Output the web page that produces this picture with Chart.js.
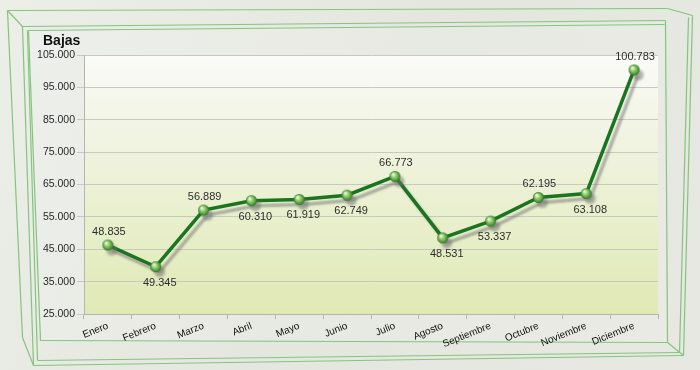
<!DOCTYPE html>
<html>
<head>
<meta charset="utf-8">
<script src="https://cdn.jsdelivr.net/npm/chart.js@4/dist/chart.umd.min.js"></script>
<style>
html,body{margin:0;padding:0;background:#e6e8e1;}
#wrap{width:700px;height:370px;}
</style>
</head>
<body>
<div id="wrap"><canvas id="c" width="700" height="370"></canvas></div>
<script>
// ---- data ----
const months = ['Enero','Febrero','Marzo','Abril','Mayo','Junio','Julio','Agosto','Septiembre','Octubre','Noviembre','Diciembre'];
const bajas = [46300, 39600, 57100, 60000, 60400, 61700, 67500, 48500, 53700, 61000, 62200, 100400];
const bajasLabels = ['48.835','49.345','56.889','60.310','61.919','62.749','66.773','48.531','53.337','62.195','63.108','100.783'];
const yTicks = [25000, 35000, 45000, 55000, 65000, 75000, 85000, 95000, 105000];
const axisTitle = 'Bajas';

function fmt(v){ return String(v).replace(/\B(?=(\d{3})+(?!\d))/g, '.'); }

// sphere point image
function sphere(r){
  const c = document.createElement('canvas');
  c.width = c.height = r*2+2;
  const g = c.getContext('2d');
  const cx = r+1, cy = r+1;
  const grad = g.createRadialGradient(cx-r*0.35, cy-r*0.4, r*0.1, cx, cy, r);
  grad.addColorStop(0, '#eef8e4');
  grad.addColorStop(0.35, '#9fd27e');
  grad.addColorStop(0.8, '#4f9a3a');
  grad.addColorStop(1, '#2f7026');
  g.fillStyle = grad;
  g.beginPath(); g.arc(cx, cy, r, 0, Math.PI*2); g.fill();
  return c;
}
const ball = sphere(5.5);

const bgPlugin = {
  id: 'bg',
  beforeDraw(chart){
    const ctx = chart.ctx, a = chart.chartArea;
    ctx.save();
    const bg = ctx.createLinearGradient(0,0,700,370);
    bg.addColorStop(0,'#eceee8');
    bg.addColorStop(0.5,'#e4e7df');
    bg.addColorStop(1,'#e6e8e1');
    ctx.fillStyle = bg;
    ctx.fillRect(0,0,700,370);
    // inner box face
    ctx.fillStyle = 'rgba(255,255,255,0.12)';
    ctx.beginPath();
    ctx.moveTo(28,31); ctx.lineTo(664,22); ctx.lineTo(667,342); ctx.lineTo(40,340); ctx.closePath();
    ctx.fill();
    // plot area gradient
    const pg = ctx.createLinearGradient(0,a.top,0,a.bottom);
    pg.addColorStop(0,'#fbfbf8');
    pg.addColorStop(0.3,'#f1f4e3');
    pg.addColorStop(0.65,'#e8efcb');
    pg.addColorStop(1,'#e0e9b5');
    ctx.fillStyle = pg;
    ctx.fillRect(a.left, a.top, a.right-a.left, a.bottom-a.top);
    // 3D frame lines
    ctx.strokeStyle = '#86c47f';
    ctx.lineWidth = 1.2;
    const segs = [
      [[7,10],[667,8]], [[7,10],[22,337]], [[7,10],[22,26]], [[667,8],[692,15]],
      [[22,26],[665,20]], [[27,30],[664,24]],
      [[22,26],[33,365]], [[28,31],[40,340]], [[27,30],[37,360]],
      [[665,20],[667,342]], [[688,17],[679,352]], [[692,15],[683,355]],
      [[40,340],[667,342]], [[37,360],[679,352]], [[33,365],[683,355]],
      [[667,342],[683,355]], [[22,337],[33,365]]
    ];
    segs.forEach(s=>{ ctx.beginPath(); ctx.moveTo(s[0][0]+0.5,s[0][1]+0.5); ctx.lineTo(s[1][0]+0.5,s[1][1]+0.5); ctx.stroke(); });
    // axis title
    ctx.fillStyle = '#111';
    ctx.font = 'bold 14px "Liberation Sans", Arial, sans-serif';
    ctx.textBaseline = 'alphabetic';
    ctx.textAlign = 'left';
    ctx.fillText(axisTitle, 43, 45);
    ctx.restore();
  }
};

const shadowPlugin = {
  id: 'shadow',
  beforeDatasetDraw(chart){
    const ctx = chart.ctx;
    ctx.save();
    ctx.shadowColor = 'rgba(110,110,110,0.5)';
    ctx.shadowOffsetX = 4;
    ctx.shadowOffsetY = 5;
    ctx.shadowBlur = 2;
  },
  afterDatasetDraw(chart){ chart.ctx.restore(); }
};

const belowIdx = [1,3,4,5,7,8,10];
const labelPlugin = {
  id: 'vlabels',
  afterDatasetsDraw(chart){
    const ctx = chart.ctx;
    const meta = chart.getDatasetMeta(0);
    ctx.save();
    ctx.font = '11px "Liberation Sans", Arial, sans-serif';
    ctx.fillStyle = '#2e2e2e';
    ctx.textAlign = 'center';
    ctx.textBaseline = 'middle';
    meta.data.forEach((p,i)=>{
      const below = belowIdx.includes(i);
      const dx = below ? 4 : 1;
      const dy = below ? 16 : -13;
      ctx.fillText(bajasLabels[i], p.x+dx, p.y+dy);
    });
    ctx.restore();
  }
};

new Chart(document.getElementById('c'), {
  type: 'line',
  data: {
    labels: months,
    datasets: [{
      data: bajas,
      borderColor: '#1b7420',
      borderWidth: 3.5,
      tension: 0,
      fill: false,
      pointStyle: ball,
      pointRadius: 6,
      pointHoverRadius: 6
    }]
  },
  options: {
    responsive: false,
    animation: false,
    events: [],
    layout: { padding: { top: 55, right: 42, bottom: 0, left: 0 } },
    plugins: { legend: { display: false }, tooltip: { enabled: false }, title: { display: false } },
    scales: {
      x: {
        offset: true,
        grid: { drawOnChartArea: false, offset: true, tickLength: 5, color: '#b3b5ae' },
        border: { color: '#b3b5ae' },
        ticks: {
          autoSkip: false, maxRotation: 22, minRotation: 22, padding: 1,
          color: '#111', font: { size: 10, family: '"Liberation Sans", Arial, sans-serif' }
        },
        afterFit(s){ s.height = 56; }
      },
      y: {
        min: 25000, max: 105000,
        afterBuildTicks(s){ s.ticks = yTicks.map(v=>({value:v})); },
        grid: { color: '#c8c9c2', tickLength: 7, lineWidth: 1 },
        border: { color: '#b3b5ae' },
        ticks: {
          padding: 2, color: '#2a2a2a',
          font: { size: 10.5, family: '"Liberation Sans", Arial, sans-serif' },
          callback: v => fmt(v)
        },
        afterFit(s){ s.width = 84; }
      }
    }
  },
  plugins: [bgPlugin, shadowPlugin, labelPlugin]
});
</script>
</body>
</html>
